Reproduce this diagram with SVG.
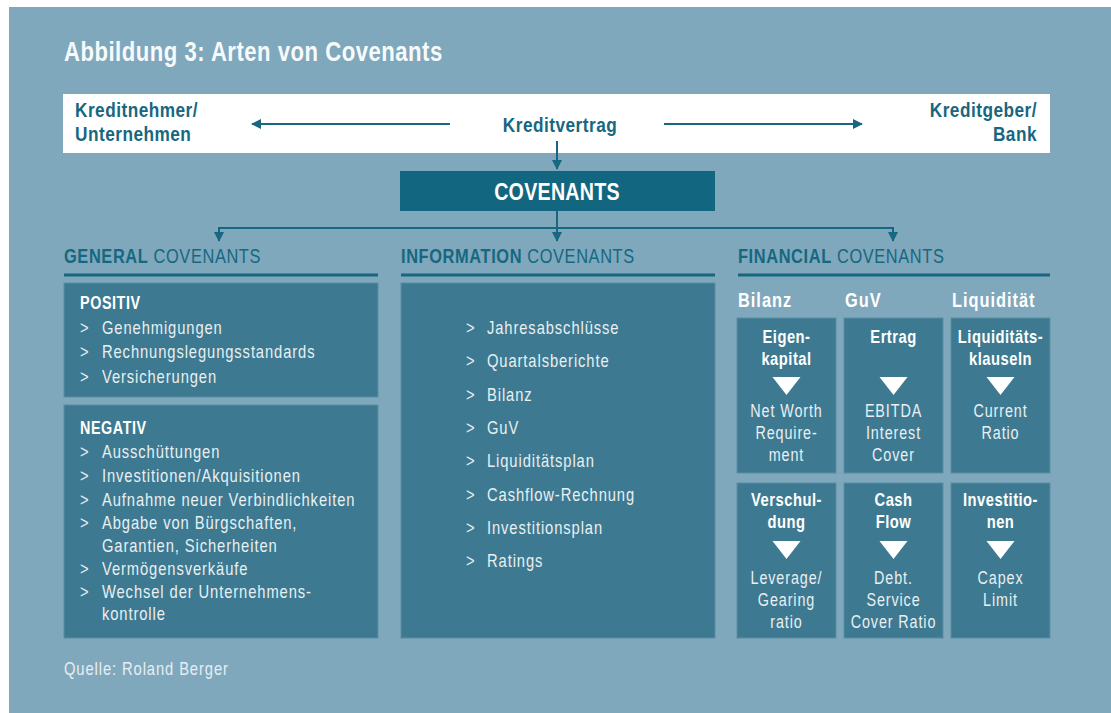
<svg xmlns="http://www.w3.org/2000/svg" width="1111" height="713" viewBox="0 0 1111 713">
  <defs>
    <marker id="arrow" viewBox="0 0 10 10" refX="9" refY="5" markerWidth="5" markerHeight="5" markerUnits="strokeWidth" orient="auto">
      <path d="M0,0 L10,5 L0,10 z" fill="#16677f"/>
    </marker>
    <style>
      text { font-family: "Liberation Sans", Arial, sans-serif; }
      .title { font-size: 27px; font-weight: bold; fill: #f7fafb; letter-spacing: 0.6px; }
      .band { font-size: 21px; font-weight: bold; fill: #16677f; letter-spacing: 0.6px; }
      .cov { font-size: 24px; font-weight: bold; fill: #ffffff; letter-spacing: 0.3px; }
      .head { font-size: 20px; fill: #16677f; letter-spacing: 0.75px; }
      .head tspan.b { font-weight: bold; }
      .sub { font-size: 20px; font-weight: bold; fill: #ffffff; letter-spacing: 1.2px; }
      .lbl { font-size: 17.5px; font-weight: bold; fill: #ffffff; letter-spacing: 0.7px; }
      .item { font-size: 18px; fill: #e9eff2; letter-spacing: 1.1px; }
      .cell-b { font-size: 18px; font-weight: bold; fill: #ffffff; letter-spacing: 0.6px; text-anchor: middle; }
      .cell { font-size: 17.5px; fill: #e9eff2; letter-spacing: 1.1px; text-anchor: middle; }
      .src { font-size: 18px; fill: #e6eef2; letter-spacing: 1.1px; }
      .box { fill: #3d7a91; stroke: #5b8ea3; stroke-width: 1; }
      .link { stroke: #16677f; stroke-width: 2; fill: none; }
      .rule { stroke: #16677f; stroke-width: 3; }
      .tri { fill: #ffffff; }
    </style>
  </defs>

  <!-- page background -->
  <rect x="0" y="0" width="1111" height="713" fill="#ffffff"/>
  <rect x="9" y="7" width="1102" height="706" fill="#7fa8bd"/>

  <!-- all lettering is set in a condensed cut: Liberation Sans squeezed to 82 % width -->
  <text class="title" transform="translate(64 61) scale(0.82 1)">Abbildung 3: Arten von Covenants</text>

  <!-- contract band -->
  <g id="band">
    <rect x="63" y="94" width="987" height="59" fill="#ffffff"/>
    <text class="band" transform="translate(75 117) scale(0.82 1)">Kreditnehmer/</text>
    <text class="band" transform="translate(75 141) scale(0.82 1)">Unternehmen</text>
    <text class="band" text-anchor="middle" transform="translate(560 132) scale(0.82 1)">Kreditvertrag</text>
    <text class="band" text-anchor="end" transform="translate(1037 117) scale(0.82 1)">Kreditgeber/</text>
    <text class="band" text-anchor="end" transform="translate(1037 141) scale(0.82 1)">Bank</text>
  </g>

  <g id="covenants">
    <rect x="400" y="171" width="315" height="40" fill="#12667f"/>
    <text class="cov" text-anchor="middle" transform="translate(557 200) scale(0.82 1)">COVENANTS</text>
  </g>

  <!-- connectors -->
  <g id="connectors">
    <line class="link" x1="450" y1="124" x2="252" y2="124" marker-end="url(#arrow)"/>
    <line class="link" x1="664" y1="124" x2="862" y2="124" marker-end="url(#arrow)"/>
    <line class="link" x1="557" y1="141" x2="557" y2="169" marker-end="url(#arrow)"/>
    <line class="link" x1="557" y1="211" x2="557" y2="241" marker-end="url(#arrow)"/>
    <polyline class="link" points="219,236 219,228 893,228 893,236"/>
    <line class="link" x1="219" y1="229" x2="219" y2="241" marker-end="url(#arrow)"/>
    <line class="link" x1="893" y1="229" x2="893" y2="241" marker-end="url(#arrow)"/>
  </g>

  <!-- general covenants -->
  <g id="general">
    <text class="head" transform="translate(64 263) scale(0.82 1)"><tspan class="b">GENERAL</tspan> COVENANTS</text>
    <line class="rule" x1="64" y1="275" x2="378" y2="275"/>
    <g id="positiv">
      <rect class="box" x="64" y="283" width="314" height="114"/>
      <g transform="translate(80 0) scale(0.82 1)">
        <text class="lbl" x="0" y="309">POSITIV</text>
        <text class="item" x="0" y="334">&gt;</text><text class="item" x="26.8" y="334">Genehmigungen</text>
        <text class="item" x="0" y="358">&gt;</text><text class="item" x="26.8" y="358">Rechnungslegungsstandards</text>
        <text class="item" x="0" y="383">&gt;</text><text class="item" x="26.8" y="383">Versicherungen</text>
      </g>
    </g>
    <g id="negativ">
      <rect class="box" x="64" y="405" width="314" height="233"/>
      <g transform="translate(80 0) scale(0.82 1)">
        <text class="lbl" x="0" y="434">NEGATIV</text>
        <text class="item" x="0" y="458">&gt;</text><text class="item" x="26.8" y="458">Ausschüttungen</text>
        <text class="item" x="0" y="482">&gt;</text><text class="item" x="26.8" y="482">Investitionen/Akquisitionen</text>
        <text class="item" x="0" y="506">&gt;</text><text class="item" x="26.8" y="506">Aufnahme neuer Verbindlichkeiten</text>
        <text class="item" x="0" y="529">&gt;</text><text class="item" x="26.8" y="529">Abgabe von Bürgschaften,</text>
        <text class="item" x="26.8" y="552">Garantien, Sicherheiten</text>
        <text class="item" x="0" y="575">&gt;</text><text class="item" x="26.8" y="575">Vermögensverkäufe</text>
        <text class="item" x="0" y="598">&gt;</text><text class="item" x="26.8" y="598">Wechsel der Unternehmens-</text>
        <text class="item" x="26.8" y="620">kontrolle</text>
      </g>
    </g>
  </g>

  <!-- information covenants -->
  <g id="information">
    <text class="head" transform="translate(401 263) scale(0.82 1)"><tspan class="b">INFORMATION</tspan> COVENANTS</text>
    <line class="rule" x1="401" y1="275" x2="715" y2="275"/>
    <rect class="box" x="401" y="283" width="314" height="355"/>
    <g transform="translate(466 0) scale(0.82 1)">
      <text class="item" x="0" y="334">&gt;</text><text class="item" x="25.6" y="334">Jahresabschlüsse</text>
      <text class="item" x="0" y="367">&gt;</text><text class="item" x="25.6" y="367">Quartalsberichte</text>
      <text class="item" x="0" y="401">&gt;</text><text class="item" x="25.6" y="401">Bilanz</text>
      <text class="item" x="0" y="434">&gt;</text><text class="item" x="25.6" y="434">GuV</text>
      <text class="item" x="0" y="467">&gt;</text><text class="item" x="25.6" y="467">Liquiditätsplan</text>
      <text class="item" x="0" y="501">&gt;</text><text class="item" x="25.6" y="501">Cashflow-Rechnung</text>
      <text class="item" x="0" y="534">&gt;</text><text class="item" x="25.6" y="534">Investitionsplan</text>
      <text class="item" x="0" y="567">&gt;</text><text class="item" x="25.6" y="567">Ratings</text>
    </g>
  </g>

  <!-- financial covenants -->
  <g id="financial">
    <text class="head" transform="translate(738 263) scale(0.82 1)"><tspan class="b">FINANCIAL</tspan> COVENANTS</text>
    <line class="rule" x1="738" y1="275" x2="1050" y2="275"/>
    <text class="sub" transform="translate(738 307) scale(0.82 1)">Bilanz</text>
    <text class="sub" transform="translate(845 307) scale(0.82 1)">GuV</text>
    <text class="sub" transform="translate(952 307) scale(0.82 1)">Liquidität</text>

    <g id="eigenkapital">
      <rect class="box" x="737" y="318" width="99" height="155"/>
      <polygon class="tri" points="772.5,377 800.5,377 786.5,395"/>
      <g transform="translate(786.5 0) scale(0.82 1)">
        <text class="cell-b" x="0" y="343">Eigen-</text>
        <text class="cell-b" x="0" y="365">kapital</text>
        <text class="cell" x="0" y="417">Net Worth</text>
        <text class="cell" x="0" y="439">Require-</text>
        <text class="cell" x="0" y="461">ment</text>
      </g>
    </g>
    <g id="ertrag">
      <rect class="box" x="844" y="318" width="99" height="155"/>
      <polygon class="tri" points="879.5,377 907.5,377 893.5,395"/>
      <g transform="translate(893.5 0) scale(0.82 1)">
        <text class="cell-b" x="0" y="343">Ertrag</text>
        <text class="cell" x="0" y="417">EBITDA</text>
        <text class="cell" x="0" y="439">Interest</text>
        <text class="cell" x="0" y="461">Cover</text>
      </g>
    </g>
    <g id="liquiditaet">
      <rect class="box" x="951" y="318" width="99" height="155"/>
      <polygon class="tri" points="986.5,377 1014.5,377 1000.5,395"/>
      <g transform="translate(1000.5 0) scale(0.82 1)">
        <text class="cell-b" x="0" y="343">Liquiditäts-</text>
        <text class="cell-b" x="0" y="365">klauseln</text>
        <text class="cell" x="0" y="417">Current</text>
        <text class="cell" x="0" y="439">Ratio</text>
      </g>
    </g>

    <g id="verschuldung">
      <rect class="box" x="737" y="483" width="99" height="155"/>
      <polygon class="tri" points="772.5,541 800.5,541 786.5,559"/>
      <g transform="translate(786.5 0) scale(0.82 1)">
        <text class="cell-b" x="0" y="506">Verschul-</text>
        <text class="cell-b" x="0" y="528">dung</text>
        <text class="cell" x="0" y="584">Leverage/</text>
        <text class="cell" x="0" y="606">Gearing</text>
        <text class="cell" x="0" y="628">ratio</text>
      </g>
    </g>
    <g id="cashflow">
      <rect class="box" x="844" y="483" width="99" height="155"/>
      <polygon class="tri" points="879.5,541 907.5,541 893.5,559"/>
      <g transform="translate(893.5 0) scale(0.82 1)">
        <text class="cell-b" x="0" y="506">Cash</text>
        <text class="cell-b" x="0" y="528">Flow</text>
        <text class="cell" x="0" y="584">Debt.</text>
        <text class="cell" x="0" y="606">Service</text>
        <text class="cell" x="0" y="628">Cover Ratio</text>
      </g>
    </g>
    <g id="investitionen">
      <rect class="box" x="951" y="483" width="99" height="155"/>
      <polygon class="tri" points="986.5,541 1014.5,541 1000.5,559"/>
      <g transform="translate(1000.5 0) scale(0.82 1)">
        <text class="cell-b" x="0" y="506">Investitio-</text>
        <text class="cell-b" x="0" y="528">nen</text>
        <text class="cell" x="0" y="584">Capex</text>
        <text class="cell" x="0" y="606">Limit</text>
      </g>
    </g>
  </g>

  <text class="src" transform="translate(64 675) scale(0.82 1)">Quelle: Roland Berger</text>
</svg>
